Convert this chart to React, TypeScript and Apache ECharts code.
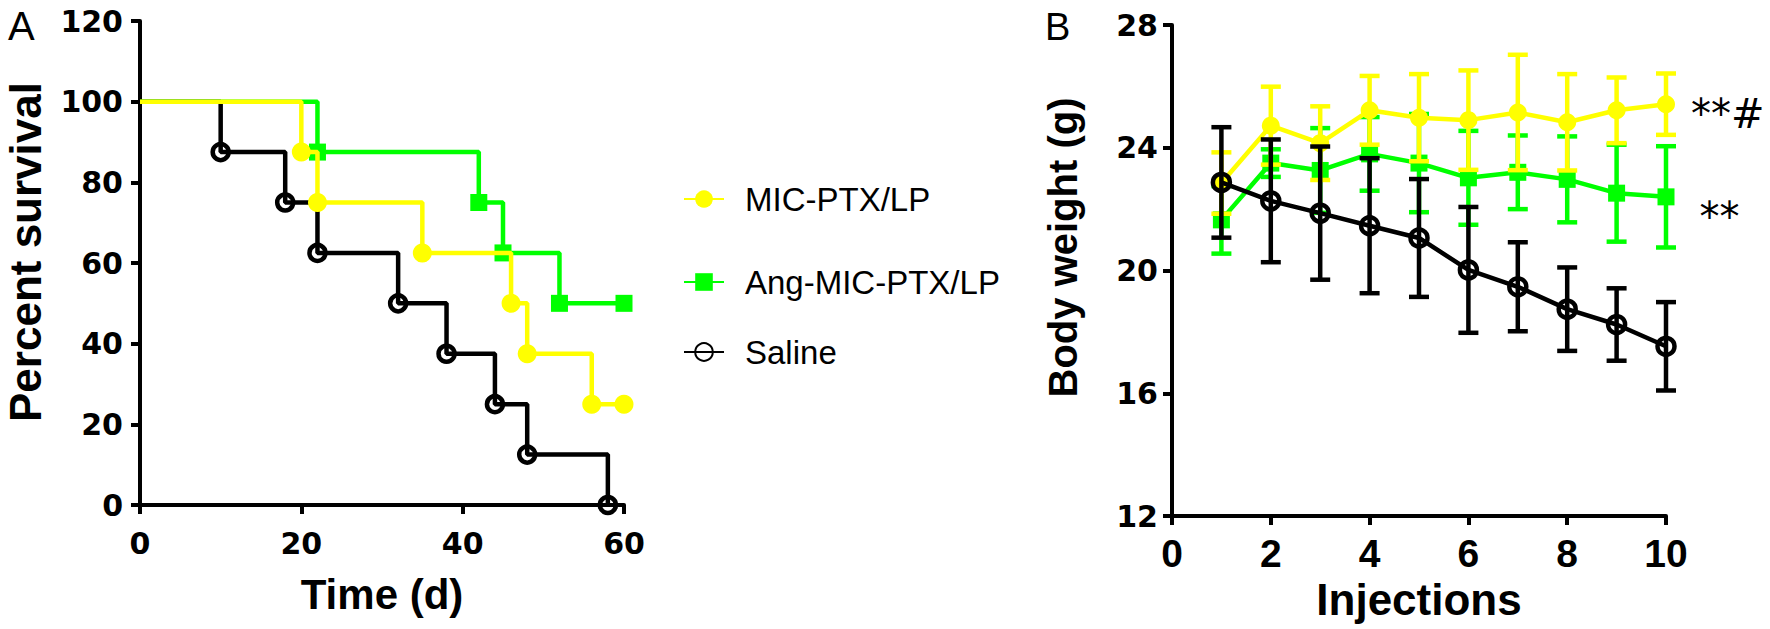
import React, { useEffect, useRef } from "react";
import * as echarts from "echarts";

// ---------- Data ----------
const seriesNames = ["MIC-PTX/LP", "Ang-MIC-PTX/LP", "Saline"];

// Panel A: Kaplan-Meier survival, [day, percent survival]
const micSurvival = [[0, 100], [20, 87.5], [22, 75], [35, 62.5], [46, 50], [48, 37.5], [56, 25], [60, 25]];
const angSurvival = [[0, 100], [22, 87.5], [42, 75], [45, 62.5], [52, 50], [60, 50]];
const salineSurvival = [[0, 100], [10, 87.5], [18, 75], [22, 62.5], [32, 50], [38, 37.5], [44, 25], [48, 12.5], [58, 0]];

// Panel B: body weight (g) after each injection, mean and SD
const injections = [1, 2, 3, 4, 5, 6, 7, 8, 9, 10];
const micWeight = [22.85, 24.72, 24.15, 25.22, 24.98, 24.9, 25.15, 24.83, 25.22, 25.42];
const micSd = [1.0, 1.27, 1.2, 1.12, 1.42, 1.62, 1.88, 1.57, 1.07, 1.0];
const angWeight = [21.65, 23.5, 23.26, 23.8, 23.5, 23.02, 23.2, 22.97, 22.52, 22.4];
const angSd = [1.1, 0.45, 1.38, 1.2, 1.6, 1.53, 1.2, 1.4, 1.58, 1.65];
const salineWeight = [22.87, 22.27, 21.87, 21.46, 21.06, 20.02, 19.47, 18.74, 18.24, 17.53];
const salineSd = [1.8, 2.0, 2.17, 2.2, 1.92, 2.05, 1.45, 1.36, 1.18, 1.44];

const significance = ["**#", "**", ""];

// ---------- Styles ----------
const YELLOW = "#ffff00";
const GREEN = "#00ff00";
const BLACK = "#000000";
const FONT = "'Liberation Sans', Arial, Helvetica, sans-serif";
const WIDE = "'DejaVu Sans', Verdana, sans-serif";
const LW = 4.5;

function axisCommon(labelFont: string, labelSize: number, margin: number, nameSize: number) {
  return {
    axisLine: { show: true, lineStyle: { color: BLACK, width: 4 } },
    axisTick: { show: true, inside: false, length: 9, lineStyle: { color: BLACK, width: 4 } },
    splitLine: { show: false },
    axisLabel: { color: BLACK, fontSize: labelSize, fontWeight: "bold", fontFamily: labelFont, margin },
    nameTextStyle: { color: BLACK, fontSize: nameSize, fontWeight: "bold", fontFamily: FONT },
  };
}

function withFirstNoSymbol(data: number[][]) {
  return data.map((p, i) => (i === 0 ? { value: p, symbol: "none" } : p));
}

function weightData(x: number[], y: number[], label: string, distance: number, dy: number) {
  return x.map((xv, i) => {
    if (i === x.length - 1 && label) {
      return {
        value: [xv, y[i]],
        label: {
          show: true,
          formatter: label,
          position: "right",
          distance,
          offset: [0, dy],
          fontSize: 40,
          color: BLACK,
          fontFamily: WIDE,
        },
      };
    }
    return [xv, y[i]];
  });
}

function errorBars(name: string, x: number[], mean: number[], sd: number[], color: string, z: number) {
  return {
    type: "custom",
    name,
    xAxisIndex: 1,
    yAxisIndex: 1,
    z,
    silent: true,
    data: x.map((xv, i) => [xv, mean[i] - sd[i], mean[i] + sd[i]]),
    encode: { x: 0, y: [1, 2] },
    renderItem: (params: any, api: any) => {
      const xv = api.value(0);
      const lo = api.coord([xv, api.value(1)]);
      const hi = api.coord([xv, api.value(2)]);
      const half = 10;
      const style = { stroke: color, lineWidth: LW, fill: "none" };
      return {
        type: "group",
        children: [
          { type: "line", shape: { x1: lo[0], y1: lo[1], x2: hi[0], y2: hi[1] }, style },
          { type: "line", shape: { x1: lo[0] - half, y1: lo[1], x2: lo[0] + half, y2: lo[1] }, style },
          { type: "line", shape: { x1: hi[0] - half, y1: hi[1], x2: hi[0] + half, y2: hi[1] }, style },
        ],
      };
    },
  };
}

function legendFor(name: string, top: number) {
  return {
    data: [name],
    left: 678,
    top,
    orient: "vertical",
    selectedMode: false,
    itemWidth: 40,
    itemHeight: 22,
    textStyle: {
      color: BLACK,
      fontSize: 33,
      fontFamily: FONT,
      lineHeight: 36,
      padding: [0, 0, 0, 16],
    },
  };
}

export default function App() {
  const ref = useRef<HTMLDivElement>(null);

  useEffect(() => {
    document.body.style.margin = "0";
    if (!ref.current) return;
    const chart = echarts.init(ref.current, null, { renderer: "svg" });

    const axAx = axisCommon(WIDE, 30, 23, 42);
    const axAy = axisCommon(WIDE, 30, 17, 44);
    const axBx = axisCommon(FONT, 39, 18, 44);
    const axBy = axisCommon(WIDE, 30, 14, 40);

    const option: any = {
      animation: false,
      backgroundColor: "#ffffff",
      textStyle: { fontFamily: FONT },
      grid: [
        { left: 140, top: 21, width: 484, height: 484, containLabel: false, outerBoundsMode: "none" },
        { left: 1172, top: 25, width: 494, height: 491, containLabel: false, outerBoundsMode: "none" },
      ],
      xAxis: [
        {
          ...axAx,
          type: "value",
          gridIndex: 0,
          min: 0,
          max: 60,
          interval: 20,
          name: "Time (d)",
          nameLocation: "middle",
          nameGap: 68,
        },
        {
          ...axBx,
          type: "value",
          gridIndex: 1,
          min: 0,
          max: 10,
          interval: 2,
          name: "Injections",
          nameLocation: "middle",
          nameGap: 54,
        },
      ],
      yAxis: [
        {
          ...axAy,
          type: "value",
          gridIndex: 0,
          min: 0,
          max: 120,
          interval: 20,
          name: "Percent survival",
          nameLocation: "middle",
          nameGap: 93,
          nameTextStyle: { ...axAy.nameTextStyle, padding: [0, 0, 0, 22] },
        },
        {
          ...axBy,
          type: "value",
          gridIndex: 1,
          min: 12,
          max: 28,
          interval: 4,
          name: "Body weight (g)",
          nameLocation: "middle",
          nameGap: 89,
          nameTextStyle: { ...axBy.nameTextStyle, padding: [0, 0, 0, 46] },
        },
      ],
      legend: [
        legendFor(seriesNames[0], 176),
        legendFor(seriesNames[1], 259),
        legendFor(seriesNames[2], 329),
      ],
      graphic: [
        { type: "text", left: 8, top: 6, style: { text: "A", fontSize: 40, fontFamily: FONT, fill: BLACK } },
        { type: "text", left: 1045, top: 8, style: { text: "B", fontSize: 38, fontFamily: FONT, fill: BLACK } },
      ],
      series: [
        // Panel A
        {
          type: "line",
          name: seriesNames[0],
          xAxisIndex: 0,
          yAxisIndex: 0,
          step: "end",
          z: 6,
          data: withFirstNoSymbol(micSurvival),
          symbol: "circle",
          symbolSize: 19,
          itemStyle: { color: YELLOW },
          lineStyle: { color: YELLOW, width: LW },
        },
        {
          type: "line",
          name: seriesNames[1],
          xAxisIndex: 0,
          yAxisIndex: 0,
          step: "end",
          z: 5,
          data: withFirstNoSymbol(angSurvival),
          symbol: "rect",
          symbolSize: 17,
          itemStyle: { color: GREEN },
          lineStyle: { color: GREEN, width: LW },
        },
        {
          type: "line",
          name: seriesNames[2],
          xAxisIndex: 0,
          yAxisIndex: 0,
          step: "end",
          z: 4,
          data: withFirstNoSymbol(salineSurvival),
          symbol: "circle",
          symbolSize: 16,
          itemStyle: { color: "rgba(0,0,0,0)", borderColor: BLACK, borderWidth: 4.5 },
          lineStyle: { color: BLACK, width: LW },
        },
        // Panel B
        errorBars("ang-sd", injections, angWeight, angSd, GREEN, 10),
        {
          type: "line",
          name: seriesNames[1],
          xAxisIndex: 1,
          yAxisIndex: 1,
          z: 11,
          data: weightData(injections, angWeight, significance[1], 25, 20),
          symbol: "rect",
          symbolSize: 17,
          itemStyle: { color: GREEN },
          lineStyle: { color: GREEN, width: LW },
        },
        errorBars("mic-sd", injections, micWeight, micSd, YELLOW, 12),
        {
          type: "line",
          name: seriesNames[0],
          xAxisIndex: 1,
          yAxisIndex: 1,
          z: 13,
          data: weightData(injections, micWeight, significance[0], 16, 10),
          symbol: "circle",
          symbolSize: 18,
          itemStyle: { color: YELLOW },
          lineStyle: { color: YELLOW, width: LW },
        },
        errorBars("saline-sd", injections, salineWeight, salineSd, BLACK, 14),
        {
          type: "line",
          name: seriesNames[2],
          xAxisIndex: 1,
          yAxisIndex: 1,
          z: 15,
          data: weightData(injections, salineWeight, significance[2], 0, 0),
          symbol: "circle",
          symbolSize: 17,
          itemStyle: { color: "rgba(0,0,0,0)", borderColor: BLACK, borderWidth: 4.5 },
          lineStyle: { color: BLACK, width: LW },
        },
      ],
    };

    chart.setOption(option);
    return () => chart.dispose();
  }, []);

  return (
    <div
      ref={ref}
      style={{ position: "absolute", left: 0, top: 0, width: 1770, height: 629, background: "#fff" }}
    />
  );
}
